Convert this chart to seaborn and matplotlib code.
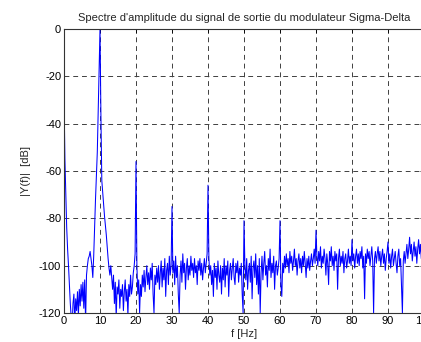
import numpy as np
import pandas as pd
import matplotlib
matplotlib.use("Agg")
import matplotlib.pyplot as plt
import seaborn as sns

# Amplitude spectrum of the Sigma-Delta modulator output, 0.25 Hz resolution
F_STEP = 0.25

mag_0_10 = [-28, -55, -70, -84, -93, -100, -108, -116, -122, -126,
            -116, -112, -124, -114, -119, -111, -121, -110, -117, -108,
            -115, -107, -118, -106, -124, -104, -100, -97, -96, -94,
            -97, -100, -105, -96, -84, -72, -62, -52, -34, -16]
mag_10_20 = [0, -36, -64, -69, -74, -79, -83, -87, -92, -97,
             -101, -104, -100, -105, -110, -104, -116, -107, -122, -109,
             -112, -106, -118, -110, -113, -108, -119, -111, -106, -115,
             -110, -121, -108, -113, -104, -112, -109, -103, -100, -95]
mag_20_30 = [-56, -100, -112, -106, -120, -108, -113, -104, -109, -102,
             -111, -105, -100, -108, -103, -110, -101, -106, -99, -112,
             -120, -104, -108, -101, -107, -100, -110, -103, -98, -109,
             -101, -106, -97, -113, -102, -99, -108, -96, -104, -100]
mag_30_40 = [-75, -103, -98, -108, -96, -105, -100, -112, -120, -104,
             -98, -107, -95, -103, -99, -110, -101, -97, -106, -100,
             -104, -96, -102, -99, -105, -97, -103, -100, -108, -98,
             -102, -97, -104, -99, -106, -101, -97, -103, -99, -95]
mag_40_50 = [-66, -97, -104, -100, -108, -102, -113, -99, -105, -101,
             -110, -98, -104, -107, -100, -112, -101, -106, -97, -109,
             -100, -104, -98, -113, -102, -99, -106, -101, -97, -105,
             -108, -99, -103, -98, -107, -101, -104, -99, -112, -120]
mag_50_60 = [-81, -100, -106, -97, -110, -102, -99, -107, -96, -114,
             -101, -98, -105, -95, -108, -100, -112, -97, -120, -103,
             -96, -106, -99, -94, -104, -100, -109, -97, -102, -93,
             -105, -99, -103, -96, -110, -100, -98, -104, -101, -97]
mag_60_70 = [-81, -108, -113, -99, -103, -96, -101, -95, -100, -97,
             -103, -94, -99, -96, -102, -98, -93, -100, -97, -104,
             -98, -95, -101, -97, -103, -96, -100, -94, -99, -105,
             -97, -101, -96, -102, -98, -95, -100, -97, -93, -99]
mag_70_80 = [-85, -96, -100, -94, -98, -92, -101, -96, -99, -93,
             -97, -104, -95, -99, -108, -94, -98, -92, -100, -96,
             -102, -94, -98, -95, -110, -97, -93, -100, -96, -99,
             -94, -103, -97, -95, -101, -98, -93, -99, -96, -100]
mag_80_90 = [-89, -98, -95, -101, -96, -93, -99, -95, -100, -94,
             -97, -92, -101, -96, -114, -95, -99, -93, -97, -94,
             -100, -96, -92, -98, -120, -97, -94, -99, -95, -92,
             -98, -94, -100, -96, -93, -99, -95, -102, -97, -94]
mag_90_100 = [-90, -99, -95, -101, -96, -93, -100, -97, -94, -99,
              -103, -96, -93, -100, -97, -108, -120, -98, -94, -99,
              -95, -91, -97, -93, -88, -95, -91, -98, -94, -90,
              -96, -92, -99, -93, -89, -95, -91, -97, -93, -90, -94]

magnitude_db = (mag_0_10 + mag_10_20 + mag_20_30 + mag_30_40 + mag_40_50
                + mag_50_60 + mag_60_70 + mag_70_80 + mag_80_90 + mag_90_100)
frequency_hz = np.arange(len(magnitude_db)) * F_STEP

x_ticks = [0, 10, 20, 30, 40, 50, 60, 70, 80, 90, 100]
y_ticks = [-120, -100, -80, -60, -40, -20, 0]

df = pd.DataFrame({"f": frequency_hz, "Y": magnitude_db})

sns.set_style("white")
plt.rcParams["font.family"] = ["Liberation Sans", "DejaVu Sans"]
plt.rcParams["axes.unicode_minus"] = False

fig = plt.figure(figsize=(4.21, 3.42), dpi=100)
ax = fig.add_axes([64 / 421, 29 / 342, 360 / 421, 284 / 342])

sns.lineplot(data=df, x="f", y="Y", ax=ax, color="#0000ff",
             linewidth=0.75, estimator=None, sort=False)

ax.set_xlim(0, 100)
ax.set_ylim(-120, 0)
ax.set_xticks(x_ticks)
ax.set_yticks(y_ticks)
ax.tick_params(direction="in", length=3, width=0.6, labelsize=8,
               top=True, right=True, colors="black", pad=2)
ax.grid(True, color="0.25", linestyle=(0, (5, 4)), linewidth=0.7)
for sp in ax.spines.values():
    sp.set_color("0.2")
    sp.set_linewidth(0.8)

ax.set_title("Spectre d'amplitude du signal de sortie du modulateur Sigma-Delta",
             fontsize=8, pad=6)
ax.set_xlabel("f [Hz]", fontsize=8, labelpad=2)
ax.set_ylabel("|Y(f)|  [dB]", fontsize=8, labelpad=6)

fig.savefig("out.png", dpi=100)
